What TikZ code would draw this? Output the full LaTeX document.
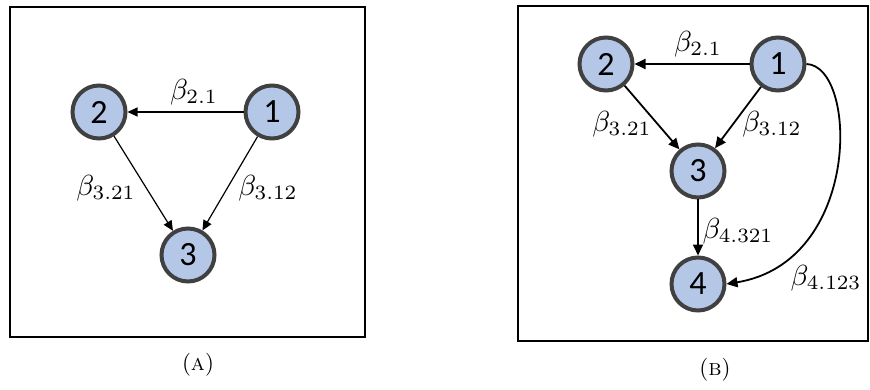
\documentclass[tikz,border=0pt]{standalone}
\usepackage{fontspec}
\newfontfamily\nodefont{Carlito}
\usetikzlibrary{arrows.meta}
\definecolor{nodefill}{HTML}{B4C7E7}
\definecolor{nodeborder}{HTML}{404040}
\newcommand{\blab}[1]{\scalebox{2.9}{$#1$}}
\newcommand{\capt}[1]{\scalebox{2.3}{(\textsc{#1})}}
\tikzset{
  vnode/.style={circle, draw=nodeborder, fill=nodefill, line width=4pt,
    minimum size=53pt, inner sep=0pt, font=\nodefont\fontsize{34}{40}\selectfont},
  betalab/.style={inner sep=0pt},
  captext/.style={inner sep=0pt},
  boxframe/.style={draw=black, line width=1.8pt},
  edgeA/.style={-{Triangle[length=10pt,width=9pt]}, line width=1.2pt},
  edgeB/.style={-{Triangle[length=11pt,width=10pt]}, line width=1.8pt},
}
\begin{document}
\begin{tikzpicture}[x=1pt,y=-1pt]
\path[use as bounding box] (0,0) rectangle (870,390);
% Panel A
\draw[boxframe] (10,7) rectangle (365,337);
\node[vnode] (a2) at (99,112) {2};
\node[vnode] (a1) at (272,112) {1};
\node[vnode] (a3) at (188,255) {3};
\draw[edgeA] (a1) -- (a2);
\draw[edgeA] (a2) -- (a3);
\draw[edgeA] (a1) -- (a3);
\node[betalab] (la21) at (194,92) {\blab{\beta_{2.1}}};
\node[betalab] (la321) at (106,188) {\blab{\beta_{3.21}}};
\node[betalab] (la312) at (268,188) {\blab{\beta_{3.12}}};
\node[captext] (capA) at (198,365) {\capt{a}};
% Panel B
\draw[boxframe] (518,6) rectangle (868,341);
\node[vnode] (b2) at (606,64) {2};
\node[vnode] (b1) at (778,64) {1};
\node[vnode] (b3) at (698,171) {3};
\node[vnode] (b4) at (698,284) {4};
\draw[edgeB] (b1) -- (b2);
\draw[edgeB] (b2) -- (b3);
\draw[edgeB] (b1) -- (b3);
\draw[edgeB] (b3) -- (b4);
\draw[edgeB] (b1.east) .. controls (858,66) and (862,262) .. (b4.east);
\node[betalab] (lb21) at (698,44) {\blab{\beta_{2.1}}};
\node[betalab] (lb321) at (622,124) {\blab{\beta_{3.21}}};
\node[betalab] (lb312) at (772,124) {\blab{\beta_{3.12}}};
\node[betalab] (lb4321) at (738,231) {\blab{\beta_{4.321}}};
\node[betalab] (lb4123) at (826,278) {\blab{\beta_{4.123}}};
\node[captext] (capB) at (715,370) {\capt{b}};
\end{tikzpicture}
\end{document}
